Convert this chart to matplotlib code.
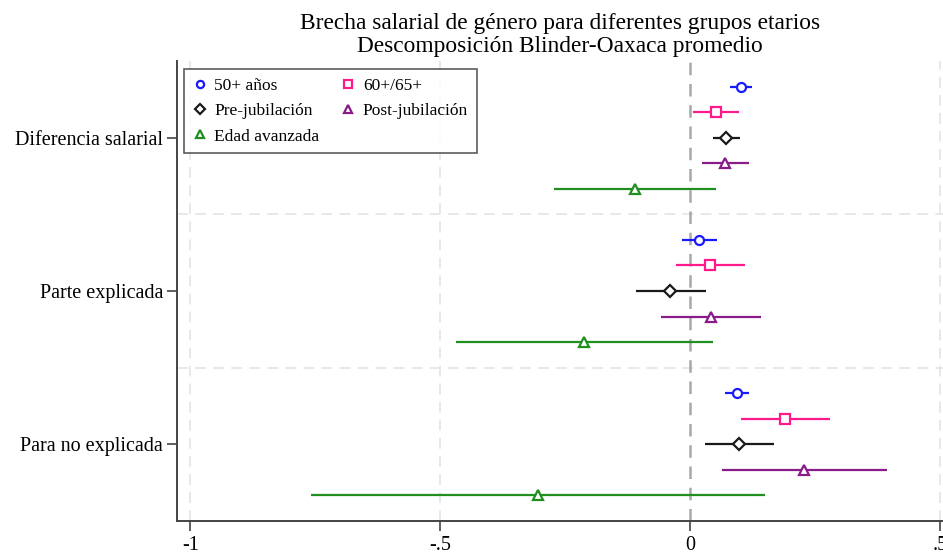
import matplotlib
matplotlib.use("Agg")
import matplotlib.pyplot as plt

plt.rcParams['font.family'] = ['Liberation Serif', 'DejaVu Serif']

categorias = ["Diferencia salarial", "Parte explicada", "Para no explicada"]
series = ["50+ años", "60+/65+", "Pre-jubilación", "Post-jubilación", "Edad avanzada"]

# coeficiente, limite inferior, limite superior (una fila por categoria)
coef_50 = [0.101, 0.017, 0.093]
lo_50 = [0.080, -0.017, 0.070]
hi_50 = [0.124, 0.053, 0.117]

coef_60 = [0.051, 0.040, 0.189]
lo_60 = [0.006, -0.029, 0.102]
hi_60 = [0.097, 0.109, 0.279]

coef_pre = [0.072, -0.040, 0.098]
lo_pre = [0.046, -0.109, 0.029]
hi_pre = [0.099, 0.031, 0.168]

coef_post = [0.070, 0.041, 0.228]
lo_post = [0.024, -0.059, 0.063]
hi_post = [0.117, 0.141, 0.394]

coef_edad = [-0.110, -0.213, -0.304]
lo_edad = [-0.273, -0.469, -0.758]
hi_edad = [0.051, 0.045, 0.150]

datos = [
    (coef_50, lo_50, hi_50),
    (coef_60, lo_60, hi_60),
    (coef_pre, lo_pre, hi_pre),
    (coef_post, lo_post, hi_post),
    (coef_edad, lo_edad, hi_edad),
]
colores = ["#1a1aff", "#ff1a8c", "#1a1a1a", "#8b1a8b", "#1f8f1f"]
marcadores = ["o", "s", "D", "^", "^"]
tamanos = [6.5, 7, 6, 7, 7]
offsets = [-1/3, -1/6, 0, 1/6, 1/3]

fig = plt.figure(figsize=(9.43, 5.56), dpi=100)
ax = fig.add_axes([177/943, 1 - 521/556, 1 - 177/943, 460/556])

# lineas de cuadricula
for xv in [-1, -0.5, 0.5]:
    ax.axvline(xv, color="#e6e6e6", lw=1.3, ls=(0, (6, 4)), zorder=0)
for yv in [1.5, 2.5]:
    ax.axhline(yv, color="#e6e6e6", lw=1.3, ls=(0, (6, 4)), zorder=0)
ax.axvline(0, color="#a8a8a8", lw=1.8, ls=(0, (5, 3.5)), zorder=1)

handles = []
for k, (coef, lo, hi) in enumerate(datos):
    ys = [i + 1 + offsets[k] for i in range(len(categorias))]
    ax.hlines(ys, lo, hi, color=colores[k], lw=1.6, zorder=2)
    h, = ax.plot(coef, ys, ls="none", marker=marcadores[k], ms=tamanos[k],
                 mfc="white", mec=colores[k], mew=1.6, zorder=3, label=series[k])
    handles.append(h)

ax.set_xlim(-1.027, 0.506)
ax.set_ylim(3.5, 0.5)
ax.set_xticks([-1, -0.5, 0, 0.5])
ax.set_xticklabels(["-1", "-.5", "0", ".5"])
ax.set_yticks([1, 2, 3])
ax.set_yticklabels(categorias)
ax.tick_params(axis="both", labelsize=14.5, length=7, width=1.2, color="#444444")
ax.tick_params(axis="x", pad=4)
ax.tick_params(axis="y", pad=3)

for s in ["top", "right"]:
    ax.spines[s].set_visible(False)
for s in ["left", "bottom"]:
    ax.spines[s].set_color("#444444")
    ax.spines[s].set_linewidth(1.4)

# orden de la leyenda: primera columna 50+, Pre, Edad; segunda 60+/65+, Post
orden = [0, 2, 4, 1, 3]
leg = ax.legend(handles=[handles[i] for i in orden], ncol=2, loc="upper left",
                bbox_to_anchor=(7/766, 1 - 8/460), borderaxespad=0, fontsize=12.5,
                frameon=True, fancybox=False, edgecolor="#333333",
                handlelength=0.8, handletextpad=0.45, columnspacing=1.25,
                labelspacing=0.53, borderpad=0.5, markerscale=0.8)
leg.get_frame().set_linewidth(1.2)

fig.text(560/943, 1 - 35/556, "Brecha salarial de género para diferentes grupos etarios\nDescomposición Blinder-Oaxaca promedio",
         ha="center", va="center", fontsize=16.8, linespacing=1.12)

fig.savefig("out.png", dpi=100)
